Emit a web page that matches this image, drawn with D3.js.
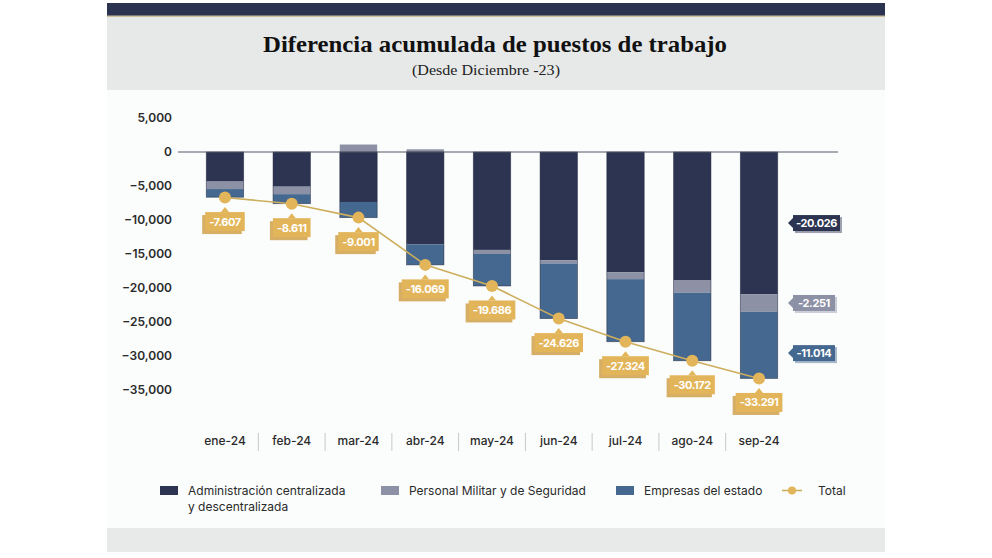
<!DOCTYPE html>
<html>
<head>
<meta charset="utf-8">
<script src="https://cdn.jsdelivr.net/npm/d3@7"></script>
<style>
  html, body { margin: 0; padding: 0; background: #ffffff; }
  svg { display: block; }
</style>
</head>
<body>
<svg id="chart" width="992" height="558"></svg>
<script>
// ---- data ----
const months = ["ene-24","feb-24","mar-24","abr-24","may-24","jun-24","jul-24","ago-24","sep-24"];
const administracion = [-4350, -5100, -7350, -13600, -14400, -15900, -17700, -18900, -20900];
const militar = [-1100, -1100, 1100, 400, -600, -500, -1000, -1800, -2600];
const empresas = [-1200, -1400, -2300, -3000, -4700, -8100, -9200, -10000, -9800];
const totalPlotted = [-6700, -7600, -9650, -16600, -19700, -24500, -27900, -30700, -33300];
const totalLabels = ["-7.607","-8.611","-9.001","-16.069","-19.686","-24.626","-27.324","-30.172","-33.291"];
const sideLabels = ["-20.026", "-2.251", "-11.014"];
const yTicks = [5000, 0, -5000, -10000, -15000, -20000, -25000, -30000, -35000];
const seriesNames = ["Administración centralizada|y descentralizada", "Personal Militar y de Seguridad", "Empresas del estado", "Total"];

// ---- styles ----
const C_DARK = "#2c3452", C_GRAY = "#8d91a6", C_BLUE = "#44688f", C_GOLD = "#e3b55a", C_GOLD_SH = "#cfa04a", C_LINE = "#cdae5c";
const svg = d3.select("#chart");

// background panels
svg.append("rect").attr("x", 107).attr("y", 3).attr("width", 778).attr("height", 13).attr("fill", "#2b3350");
svg.append("rect").attr("x", 107).attr("y", 15.5).attr("width", 778).attr("height", 1.5).attr("fill", "#cdbf9a");
svg.append("rect").attr("x", 107).attr("y", 17).attr("width", 778).attr("height", 73).attr("fill", "#e7e9e9");
svg.append("rect").attr("x", 107).attr("y", 90).attr("width", 778).attr("height", 438).attr("fill", "#fbfdfd");
svg.append("rect").attr("x", 107).attr("y", 528).attr("width", 778).attr("height", 24).attr("fill", "#e8eaea");

// title
svg.append("text").attr("x", 495).attr("y", 52).attr("text-anchor", "middle")
  .attr("font-family", "'Liberation Serif', 'DejaVu Serif', serif").attr("font-weight", "bold")
  .attr("font-size", 23).attr("fill", "#111").attr("textLength", 464).attr("lengthAdjust", "spacingAndGlyphs")
  .text("Diferencia acumulada de puestos de trabajo");
svg.append("text").attr("x", 486).attr("y", 75).attr("text-anchor", "middle")
  .attr("font-family", "'Liberation Serif', 'DejaVu Serif', serif")
  .attr("font-size", 15).attr("fill", "#222").attr("textLength", 148).attr("lengthAdjust", "spacingAndGlyphs")
  .text("(Desde Diciembre -23)");

// scales
const x = d3.scaleBand().domain(months).range([191.6, 792.4]).paddingInner(0.44).paddingOuter(0.22);
const y = d3.scaleLinear().domain([-35000, 5000]).range([390, 118]);

// y axis labels
const yAxis = d3.axisLeft(y).tickValues(yTicks).tickSize(0).tickPadding(0).tickFormat(d3.format(","));
const yg = svg.append("g").attr("transform", "translate(172,0)").call(yAxis);
yg.select(".domain").remove();
yg.selectAll("text").attr("font-family", "Inter, 'Open Sans', sans-serif").attr("font-weight", 600)
  .attr("font-size", 12).attr("fill", "#2a2a2a");

// stacked bars
const fam = "Inter, 'Open Sans', sans-serif";
months.forEach((m, i) => {
  const bx = x(m), bw = x.bandwidth();
  const a = administracion[i];
  svg.append("rect").attr("x", bx).attr("width", bw).attr("y", y(0)).attr("height", y(a) - y(0)).attr("fill", C_DARK);
  let base = a;
  const mv = militar[i];
  if (mv < 0) {
    svg.append("rect").attr("x", bx).attr("width", bw).attr("y", y(base)).attr("height", y(base + mv) - y(base)).attr("fill", C_GRAY);
    base += mv;
  } else {
    svg.append("rect").attr("x", bx).attr("width", bw).attr("y", y(mv)).attr("height", y(0) - y(mv)).attr("fill", C_GRAY);
  }
  const e = empresas[i];
  svg.append("rect").attr("x", bx).attr("width", bw).attr("y", y(base)).attr("height", y(base + e) - y(base)).attr("fill", C_BLUE);
  svg.append("rect").attr("x", bx).attr("width", bw).attr("y", y(0)).attr("height", y(base + e) - y(0))
    .attr("fill", "none").attr("stroke", "#1f2438").attr("stroke-width", 0.8).attr("opacity", 0.6);
});

// zero line
svg.append("line").attr("x1", 178).attr("x2", 838).attr("y1", y(0)).attr("y2", y(0))
  .attr("stroke", "#555a66").attr("stroke-width", 1.2);

// total line
const cx = m => x(m) + x.bandwidth() / 2;
const line = d3.line().x((d, i) => cx(months[i])).y(d => y(d));
svg.append("path").datum(totalPlotted).attr("d", line).attr("fill", "none").attr("stroke", C_LINE).attr("stroke-width", 1.6);
svg.selectAll(".dot").data(totalPlotted).enter().append("circle")
  .attr("cx", (d, i) => cx(months[i])).attr("cy", d => y(d)).attr("r", 6).attr("fill", C_GOLD);

// total labels
totalPlotted.forEach((v, i) => {
  const px = cx(months[i]), py = y(v) + 24;
  const h = 19;
  const g = svg.append("g");
  const shadow = g.append("rect"), box = g.append("rect"), notch = g.append("path");
  const t = g.append("text").attr("x", px).attr("y", py + 4).attr("text-anchor", "middle")
    .attr("font-family", fam).attr("font-weight", 700).attr("font-size", 11).attr("fill", "#fff")
    .attr("letter-spacing", -0.4).text(totalLabels[i]);
  const w = t.node().getComputedTextLength() + 8;
  shadow.attr("x", px - w / 2 - 3).attr("y", py - h / 2 + 3).attr("width", w).attr("height", h).attr("fill", C_GOLD_SH).attr("opacity", 0.85);
  box.attr("x", px - w / 2).attr("y", py - h / 2).attr("width", w).attr("height", h).attr("fill", C_GOLD);
  notch.attr("d", `M${px - 4},${py - h / 2} L${px},${py - h / 2 - 5} L${px + 4},${py - h / 2} Z`).attr("fill", C_GOLD);
});

// side labels for last month
const li = months.length - 1;
const aL = administracion[li], mL = militar[li], eL = empresas[li];
const sideY = [y(aL / 2), y(aL + mL / 2), y(aL + mL + eL / 2) + 8];
const sideCol = [C_DARK, C_GRAY, C_BLUE];
sideLabels.forEach((tx, k) => {
  const lx = 793, ly = sideY[k], h = 16;
  const g = svg.append("g");
  const shadow = g.append("rect"), box = g.append("rect"), arrow = g.append("path");
  const t = g.append("text").attr("y", ly + 4).attr("text-anchor", "middle")
    .attr("font-family", fam).attr("font-weight", 700).attr("font-size", 11).attr("fill", "#fff")
    .attr("letter-spacing", -0.4).text(tx);
  const w = Math.max(42, t.node().getComputedTextLength() + 6);
  t.attr("x", lx + w / 2);
  shadow.attr("x", lx + 2).attr("y", ly - h / 2 + 2).attr("width", w).attr("height", h).attr("fill", sideCol[k]).attr("opacity", 0.45);
  box.attr("x", lx).attr("y", ly - h / 2).attr("width", w).attr("height", h).attr("fill", sideCol[k]);
  arrow.attr("d", `M${lx},${ly - 5} L${lx - 5},${ly} L${lx},${ly + 5} Z`).attr("fill", sideCol[k]);
});

// x axis labels
const xAxis = d3.axisBottom(x).tickSize(0).tickPadding(0);
const xg = svg.append("g").attr("transform", "translate(0,445)").call(xAxis);
xg.select(".domain").remove();
xg.selectAll("text").attr("dy", 0).attr("font-family", fam).attr("font-weight", 500)
  .attr("font-size", 12).attr("fill", "#2a2a2a");
months.slice(1).forEach(m => {
  const sx = x(m) - x.step() * x.paddingInner() / 2;
  svg.append("line").attr("x1", sx).attr("x2", sx).attr("y1", 433).attr("y2", 451)
    .attr("stroke", "#c8c8c8").attr("stroke-width", 1);
});

// legend
const legX = [160, 381, 616];
const legCol = [C_DARK, C_GRAY, C_BLUE];
seriesNames.slice(0, 3).forEach((n, k) => {
  svg.append("rect").attr("x", legX[k]).attr("y", 486).attr("width", 18).attr("height", 9).attr("fill", legCol[k]);
  const parts = n.split("|");
  parts.forEach((p, j) => {
    svg.append("text").attr("x", legX[k] + 28).attr("y", 495 + j * 16)
      .attr("font-family", fam).attr("font-size", 12).attr("fill", "#2a2a2a").text(p);
  });
});
svg.append("line").attr("x1", 782).attr("x2", 802).attr("y1", 490.5).attr("y2", 490.5).attr("stroke", C_LINE).attr("stroke-width", 1.6);
svg.append("circle").attr("cx", 792).attr("cy", 490.5).attr("r", 4).attr("fill", C_GOLD);
svg.append("text").attr("x", 818).attr("y", 495).attr("font-family", fam).attr("font-size", 12).attr("fill", "#2a2a2a").text(seriesNames[3]);
</script>
</body>
</html>
